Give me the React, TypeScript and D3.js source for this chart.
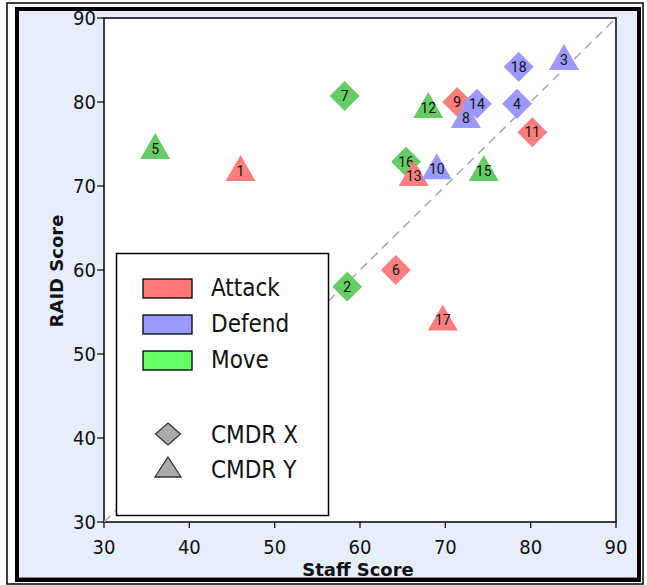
import React from "react";
import * as d3 from "d3";

const ids = [1, 2, 3, 4, 5, 6, 7, 8, 9, 10, 11, 12, 13, 14, 15, 16, 17, 18];
const staffScore = [46.0, 58.5, 83.9, 78.4, 36.0, 64.2, 58.2, 72.4, 71.4, 69.0, 80.2, 68.0, 66.3, 73.7, 74.5, 65.4, 69.7, 78.6];
const raidScore = [71.8, 58.0, 85.0, 79.8, 74.4, 60.0, 80.7, 78.1, 80.0, 72.0, 76.4, 79.3, 71.2, 79.8, 71.8, 72.9, 54.0, 84.2];
const task = ["Attack", "Move", "Defend", "Defend", "Move", "Attack", "Move", "Defend", "Attack", "Defend", "Attack", "Move", "Attack", "Defend", "Move", "Move", "Attack", "Defend"];
const cmdr = ["Y", "X", "Y", "X", "Y", "X", "X", "Y", "X", "Y", "X", "Y", "Y", "X", "Y", "X", "Y", "X"];

const tasks = ["Attack", "Defend", "Move"];
const markerColors = ["#ff7f7f", "#9999ff", "#66cc66"];
const legendColors = ["#ff7777", "#9999ff", "#66ff66"];
const ticks = [30, 40, 50, 60, 70, 80, 90];
const cmdrLegend = [{ key: "X", label: "CMDR X" }, { key: "Y", label: "CMDR Y" }];

const W = 647, H = 585;
const narrow = "'Liberation Sans Narrow', 'Arial Narrow', 'DejaVu Sans Condensed', sans-serif";

export default function App() {
  const x = d3.scaleLinear().domain([30, 90]).range([104, 616]);
  const y = d3.scaleLinear().domain([30, 90]).range([522, 18]);
  const color = d3.scaleOrdinal<string, string>().domain(tasks).range(markerColors);

  const pts = ids.map((id, i) => ({ id, sx: staffScore[i], ry: raidScore[i], task: task[i], cmdr: cmdr[i] }));
  const order = pts.slice().sort((a, b) => {
    if (a.cmdr !== b.cmdr) return a.cmdr === "X" ? -1 : 1;
    const ta = tasks.indexOf(a.task), tb = tasks.indexOf(b.task);
    if (ta !== tb) return ta - tb;
    return a.id - b.id;
  });

  const diamond = (cx: number, cy: number, r: number, ry: number) =>
    `M${cx},${cy - ry}L${cx + r},${cy}L${cx},${cy + ry}L${cx - r},${cy}Z`;
  const tri = (cx: number, cy: number, hw: number, up: number, down: number) =>
    `M${cx},${cy - up}L${cx + hw},${cy + down}L${cx - hw},${cy + down}Z`;

  const line = d3.line<number>().x((d) => x(d)).y((d) => y(d));

  return (
    <svg width={W} height={H} style={{ position: "absolute", left: 0, top: 0 }}>
      <rect x={0} y={0} width={W} height={H} fill="#ffffff" />
      <rect x={7} y={3} width={636} height={581} fill="none" stroke="#000" strokeWidth={1.5} />
      <rect x={17} y={9} width={622} height={571} fill="#e6eefe" stroke="#000" strokeWidth={4} />
      <line x1={19} x2={637} y1={577.5} y2={577.5} stroke="#888" strokeWidth={1} />
      <rect x={x(30)} y={y(90)} width={x(90) - x(30)} height={y(30) - y(90)} fill="#fff" stroke="#000" strokeWidth={1.5} />
      <path d={line([30, 90]) || ""} stroke="#a8a8a8" strokeWidth={1.5} strokeDasharray="9,6" fill="none" />

      {ticks.map((t) => (
        <g key={"x" + t}>
          <line x1={x(t)} x2={x(t)} y1={y(30)} y2={y(30) + 6} stroke="#000" strokeWidth={1.2} />
          <text x={x(t)} y={554} textAnchor="middle" fontFamily={narrow} fontSize={20} fill="#111">{t}</text>
        </g>
      ))}
      {ticks.map((t) => (
        <g key={"y" + t}>
          <line x1={x(30) - 7} x2={x(30)} y1={y(t)} y2={y(t)} stroke="#000" strokeWidth={1.2} />
          <text x={x(30) - 8} y={y(t) + 7} textAnchor="end" fontFamily={narrow} fontSize={20} fill="#111">{t}</text>
        </g>
      ))}
      <text x={358} y={576} textAnchor="middle" fontFamily="'DejaVu Sans', sans-serif" fontWeight="bold" fontSize={18} fill="#111">Staff Score</text>
      <text transform={`translate(63,271) rotate(-90)`} textAnchor="middle" fontFamily="'DejaVu Sans', sans-serif" fontWeight="bold" fontSize={18} fill="#111">RAID Score</text>

      {/* legend */}
      <rect x={116.5} y={253.5} width={212} height={262} fill="#fff" stroke="#000" strokeWidth={1.5} />
      {tasks.map((t, i) => (
        <g key={t}>
          <rect x={143} y={279 + i * 36} width={49} height={19} fill={legendColors[i]} stroke="#000" strokeWidth={1.3} />
          <text x={211} y={296 + i * 36} fontFamily={narrow} fontSize={24} fill="#111">{t}</text>
        </g>
      ))}
      {cmdrLegend.map((c, i) => (
        <g key={c.key}>
          {c.key === "X" ? (
            <path d={diamond(168, 434, 12.5, 11)} fill="#aaa" stroke="#333" strokeWidth={1.3} />
          ) : (
            <path d={tri(168, 468, 13, 11, 9)} fill="#aaa" stroke="#333" strokeWidth={1.3} />
          )}
          <text x={211} y={443 + i * 35} fontFamily={narrow} fontSize={24} fill="#111">{c.label}</text>
        </g>
      ))}

      {order.map((p) => {
        const cx = x(p.sx), cy = y(p.ry);
        return (
          <g key={p.id}>
            {p.cmdr === "X" ? (
              <path d={diamond(cx, cy, 15, 15)} fill={color(p.task)} />
            ) : (
              <path d={tri(cx, cy, 15, 16, 10)} fill={color(p.task)} />
            )}
            <text x={cx} y={cy + 5} textAnchor="middle" fontFamily="Roboto, 'Noto Sans', sans-serif" fontSize={14} fill="#111">{p.id}</text>
          </g>
        );
      })}
    </svg>
  );
}
